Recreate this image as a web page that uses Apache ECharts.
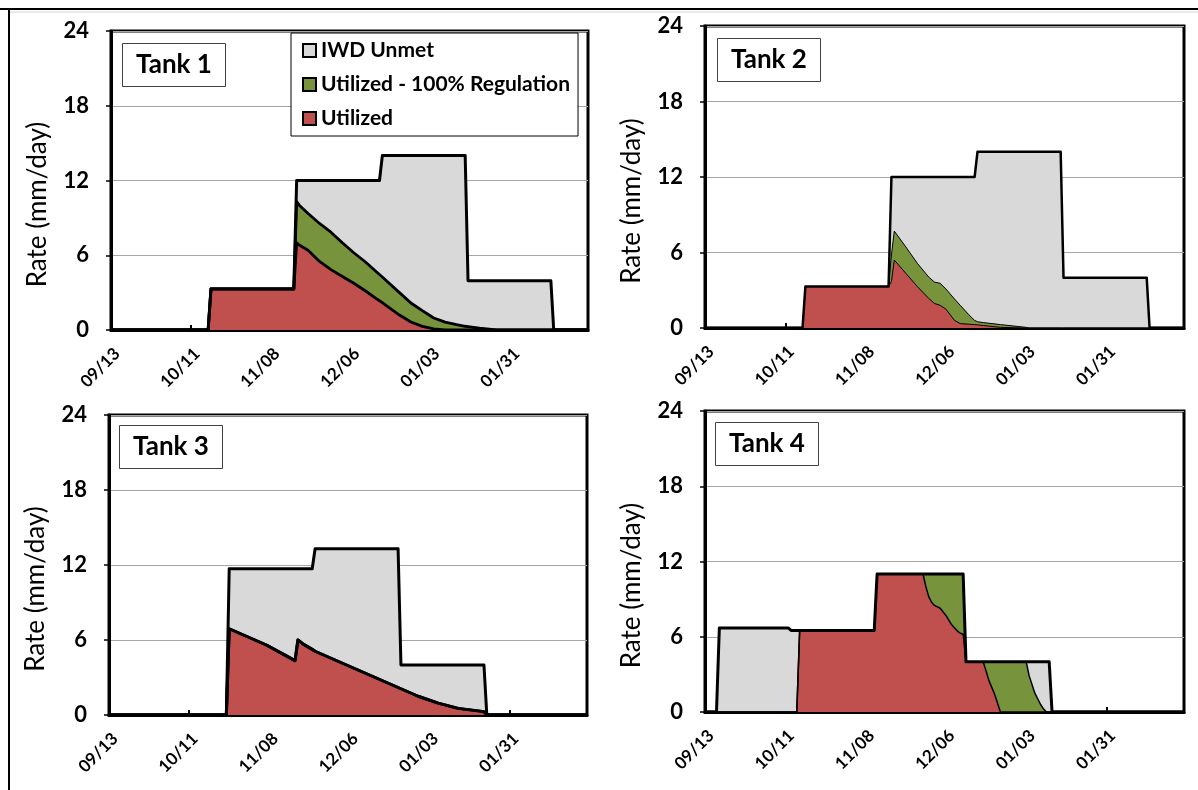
<!DOCTYPE html>
<html><head><meta charset="utf-8">
<script src="https://cdn.jsdelivr.net/npm/echarts@6/dist/echarts.min.js"></script>
<style>html,body{margin:0;padding:0;background:#fff}#c{width:1198px;height:790px}</style>
</head><body><div id="c"></div>
<script>
// x values: days since 09/13
const tickLabels = ['09/13','10/11','11/08','12/06','01/03','01/31'];
const seriesNames = ['Utilized','Utilized - 100% Regulation','IWD Unmet'];
const legendOrder = ['IWD Unmet','Utilized - 100% Regulation','Utilized'];
const tankNames = ['Tank 1','Tank 2','Tank 3','Tank 4'];

const t1Days       = [0,34,35,64,65,66,69,73,77,81,85,89,93,94,95,97,101,105,109,113,117,121,124,125,129,135,154,155,167];
const t1Utilized   = [0,0,3.3,3.3,7.0,6.8,6.4,5.5,4.85,4.3,3.75,3.15,2.5,2.35,2.2,1.85,1.2,0.64,0.29,0.09,0,0,0,0,0,0,0,0,0];
const t1Regulation = [0,0,0,0,3.3,3.2,2.95,3.05,3.0,2.7,2.45,2.33,2.16,2.1,2.05,1.98,1.8,1.53,1.26,0.87,0.63,0.43,0.3,0.27,0.14,0,0,0,0];
const t1Unmet      = [0,0,0,0,1.7,2.0,2.65,3.45,4.15,5.0,5.8,6.52,7.34,7.55,9.75,10.17,11.0,11.83,12.45,13.04,13.37,13.57,13.7,3.68,3.81,3.95,3.95,0,0];

const t2Days       = [0,34,35,64,65,66,70,74,78,80,82,84,87,89,92,94,95,97,103,112,113,124,125,154,155,167];
const t2Utilized   = [0,0,3.3,3.3,3.7,5.4,4.35,3.3,2.35,1.95,1.8,1.5,0.6,0.35,0.3,0.27,0.25,0.2,0.05,0,0,0,0,0,0,0];
const t2Regulation = [0,0,0,0,2.1,2.3,2.1,1.85,1.7,1.7,1.75,1.6,1.7,1.45,0.75,0.33,0.25,0.23,0.22,0.05,0,0,0,0,0,0];
const t2Unmet      = [0,0,0,0,6.2,4.3,5.55,6.85,7.95,8.35,8.45,8.9,9.7,10.2,10.95,11.4,13.5,13.57,13.73,13.95,14,14,4,4,0,0];

const t3Days       = [0,41,42,48,55,61,65,66,68,71,72,75,82,88,95,101,102,108,115,122,131,132,167];
const t3Utilized   = [0,0,6.9,6.3,5.6,4.85,4.35,6.0,5.65,5.25,5.1,4.8,4.1,3.5,2.8,2.2,2.1,1.5,0.95,0.53,0.27,0,0];
const t3Regulation = [0,0,0,0,0,0,0,0,0,0,0,0,0,0,0,0,0,0,0,0,0,0,0];
const t3Unmet      = [0,0,4.8,5.4,6.1,6.85,7.35,5.7,6.05,6.45,8.2,8.5,9.2,9.8,10.5,11.1,1.9,2.5,3.05,3.47,3.73,0,0];

const t4Days       = [0,4,5,29,30,32,33,59,60,76,77,78,79,80,82,84,86,88,89,90,91,97,99,101,102,103,112,113,115,117,118,119,120,121,167];
const t4Utilized   = [0,0,0,0,0,0,6.5,6.5,11,11,10.0,9.2,8.75,8.5,8.27,7.7,6.95,6.45,6.28,6.2,4,4,2.5,1.4,0.7,0,0,0,0,0,0,0,0,0,0];
const t4Regulation = [0,0,0,0,0,0,0,0,0,0,1.0,1.8,2.25,2.5,2.73,3.3,4.05,4.55,4.72,4.8,0,0,1.5,2.6,3.3,4,4,2.9,1.5,0.6,0.25,0,0,0,0];
const t4Unmet      = [0,0,6.7,6.7,6.5,6.5,0,0,0,0,0,0,0,0,0,0,0,0,0,0,0,0,0,0,0,0,0,1.1,2.5,3.4,3.75,4,4,0,0];

const tanks = [
  {days:t1Days, vals:[t1Utilized,t1Regulation,t1Unmet]},
  {days:t2Days, vals:[t2Utilized,t2Regulation,t2Unmet]},
  {days:t3Days, vals:[t3Utilized,t3Regulation,t3Unmet]},
  {days:t4Days, vals:[t4Utilized,t4Regulation,t4Unmet]}
];
const fills = ['#C0504D','#77933C','#D9D9D9'];
const lineW = [[2.8,2.8,3],[1,1,2.5],[3,3,3],[1.5,1.5,3]];
const grids = [
  {left:111, top:31, width:477, height:299},
  {left:705, top:26, width:479, height:302},
  {left:109, top:415, width:478, height:300},
  {left:705, top:411, width:479, height:301}
];
const titlePos = [[122,43],[717,38],[119,425],[715,422]];
const FONT = 'Lato';

const option = {
  animation:false,
  backgroundColor:'#fff',
  graphic:[
    {type:'line', shape:{x1:0,y1:9,x2:1198,y2:9}, style:{stroke:'#000', lineWidth:2}},
    {type:'line', shape:{x1:10,y1:12,x2:1198,y2:12}, style:{stroke:'#d4d4d4', lineWidth:1}},
    {type:'line', shape:{x1:9,y1:9,x2:9,y2:790}, style:{stroke:'#000', lineWidth:2}}
  ],
  title: tankNames.map((t,i)=>({
    text:t, left:titlePos[i][0], top:titlePos[i][1], padding:[9,14,9,14],
    borderColor:'#404040', borderWidth:1, backgroundColor:'#fff',
    textStyle:{fontFamily:FONT, fontWeight:'bold', fontSize:26, color:'#000'}
  })),
  legend:{
    left:291, top:33, orient:'vertical', data:legendOrder, icon:'rect',
    itemWidth:13, itemHeight:13, itemGap:13, padding:[7,8,7,11],
    backgroundColor:'#fff', borderColor:'#000', borderWidth:1,
    itemStyle:{borderColor:'#000', borderWidth:2},
    textStyle:{fontFamily:FONT, fontWeight:'bold', fontSize:21, color:'#000'},
    selectedMode:false, z:10
  },
  grid: grids.map(g=>Object.assign({show:true, borderColor:'#000', borderWidth:3, backgroundColor:'transparent', containLabel:false}, g)),
  xAxis: grids.map((g,i)=>({
    type:'value', gridIndex:i, min:0, max:167, interval:28,
    axisLine:{show:true, onZero:false, lineStyle:{color:'#000', width:3}},
    axisTick:{show:true, inside:true, length:5, lineStyle:{color:'#000', width:2}},
    axisLabel:{rotate:45, fontFamily:FONT, fontWeight:'bold', fontSize:17, color:'#000', margin:15,
      verticalAlign:'top', showMaxLabel:false,
      formatter:v=> (v%28===0 && tickLabels[v/28]) ? tickLabels[v/28] : ''},
    splitLine:{show:false}
  })),
  yAxis: grids.map((g,i)=>({
    type:'value', gridIndex:i, min:0, max:24, interval:6,
    name:'Rate (mm/day)', nameLocation:'middle', nameGap:60,
    nameTextStyle:{fontFamily:FONT, fontSize:26, color:'#000', padding:[0,48,0,0]},
    axisLine:{show:true, lineStyle:{color:'#000', width:3}},
    axisTick:{show:true, length:5, lineStyle:{color:'#000', width:1.5}},
    axisLabel:{fontFamily:FONT, fontWeight:'bold', fontSize:22, color:'#000', margin:22},
    splitLine:{show:true, lineStyle:{color:'#a6a6a6', width:1}}
  })),
  series:[]
};

tanks.forEach((tk,i)=>{
  // cumulative tops of the stacked areas (what a stacked chart draws)
  const tops = [];
  let run = tk.days.map(()=>0);
  for (let k=0;k<3;k++){
    run = run.map((r,j)=>r + tk.vals[k][j]);
    tops.push(run.slice());
  }
  for (let k=2;k>=0;k--){
    option.series.push({
      type:'line', name:seriesNames[k], xAxisIndex:i, yAxisIndex:i,
      data: tk.days.map((d,j)=>[d, tops[k][j]]), symbol:'none', showSymbol:false, color:fills[k],
      itemStyle:{color:fills[k]}, lineStyle:{width:0, opacity:0},
      areaStyle:{color:fills[k], opacity:1, origin:'start'}, z:2+(2-k), silent:true
    });
  }
  for (let k=0;k<3;k++){
    option.series.push({
      type:'line', name:'edge'+i+'_'+k, xAxisIndex:i, yAxisIndex:i,
      data: tk.days.map((d,j)=>[d, tops[k][j]]), symbol:'none', showSymbol:false,
      lineStyle:{color:'#000', width:lineW[i][k], join:'round'}, z:6, silent:true
    });
  }
});

const chart = echarts.init(document.getElementById('c'), null, {renderer:'canvas'});
chart.setOption(option);
</script></body></html>
